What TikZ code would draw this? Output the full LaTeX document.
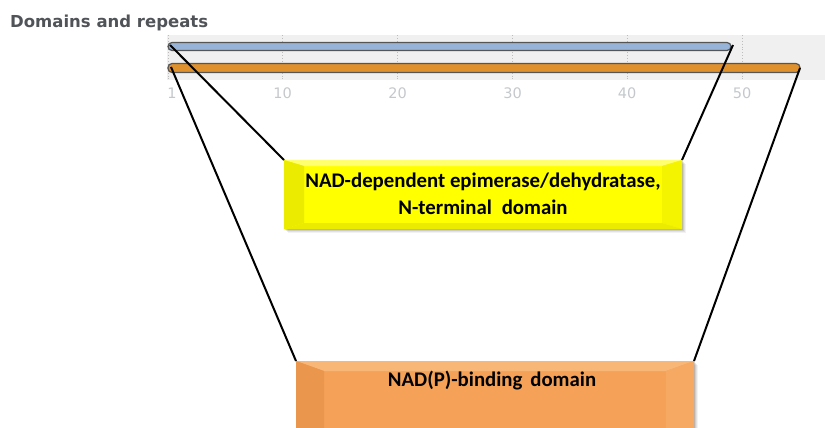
\documentclass[tikz,border=0pt]{standalone}
\usepackage{fontspec}
\setmainfont{Carlito}
\newfontfamily\verd{DejaVu Sans}
\usetikzlibrary{calc}
\definecolor{titlegray}{HTML}{505458}
\definecolor{bandgray}{HTML}{F0F0F0}
\definecolor{gridgray}{HTML}{BDBDBD}
\definecolor{ticklbl}{HTML}{C4C8CC}
\definecolor{barblue}{HTML}{98B3D8}
\definecolor{barorange}{HTML}{DF912E}
\definecolor{bardraw}{HTML}{555555}
\definecolor{ylw}{HTML}{FFFF00}
\definecolor{ylwlight}{HTML}{FFFF70}
\definecolor{ylwdark}{HTML}{EBEB00}
\definecolor{ylwside}{HTML}{F4F400}
\definecolor{org}{HTML}{F5A258}
\definecolor{orglight}{HTML}{F8B677}
\definecolor{orgdark}{HTML}{EA964D}
\definecolor{orgside}{HTML}{F6A963}
\tikzset{
  barstyle/.style={draw=bardraw, line width=1.2pt, rounded corners=4pt},
  gridline/.style={draw=gridgray, dotted, line width=0.9pt},
  ticklabel/.style={font=\verd\fontsize{14.5}{16}\selectfont, text=ticklbl, inner sep=0pt},
  boxbase/.style={rectangle, inner sep=0pt, outer sep=0pt},
  connector/.style={draw=black, line width=2pt},
  boxtext/.style={font=\bfseries\fontsize{20.8}{27}\selectfont, text=black, align=center, inner sep=0pt}
}
\begin{document}
\begin{tikzpicture}[x=1pt,y=-1pt]
\useasboundingbox (0,0) rectangle (825,428);
% title
\node[anchor=base west, inner sep=0pt, font=\verd\bfseries\fontsize{16.5}{18}\selectfont, text=titlegray] (title) at (10,28) {Domains and repeats};
% band
\fill[bandgray] (167,35) rectangle (825,80);
\foreach \x in {168,282.7,397.7,512.7,627,742} \draw[gridline] (\x,35) -- (\x,80);
% tick labels
\node[ticklabel] (t1) at (172,93) {1};
\node[ticklabel] (t10) at (282.7,93) {10};
\node[ticklabel] (t20) at (397.7,93) {20};
\node[ticklabel] (t30) at (512.7,93) {30};
\node[ticklabel] (t40) at (627,93) {40};
\node[ticklabel] (t50) at (742,93) {50};
% bars
\draw[barstyle, fill=barblue] (168,42.5) rectangle (731,50.5);
\draw[barstyle, fill=barorange] (168,63.5) rectangle (800,72.5);
\coordinate (bL) at (170,45);
\coordinate (bR) at (733,45);
\coordinate (oL) at (171,67);
\coordinate (oR) at (800,68);
% yellow box shadow
\foreach \i/\o in {4/10,3/14,2/18,1/24}
  \fill[black, opacity=0.\o*0.5] (284+\i,160+\i) rectangle (682+\i,229+\i);
\node[boxbase, fill=ylw, minimum width=398pt, minimum height=69pt] (nadA) at (483,194.5) {};
% bevels yellow
\fill[ylwlight] (nadA.north west) -- (nadA.north east) -- ($(nadA.north east)+(-20,6)$) -- ($(nadA.north west)+(20,6)$) -- cycle;
\fill[ylwdark] (nadA.north west) -- ($(nadA.north west)+(20,6)$) -- ($(nadA.south west)+(20,-6)$) -- (nadA.south west) -- cycle;
\fill[ylwside] (nadA.north east) -- ($(nadA.north east)+(-20,6)$) -- ($(nadA.south east)+(-20,-6)$) -- (nadA.south east) -- cycle;
\fill[ylwdark] (nadA.south west) -- ($(nadA.south west)+(20,-6)$) -- ($(nadA.south east)+(-20,-6)$) -- (nadA.south east) -- cycle;
\node[boxtext] (nadAtext) at (483,194) {NAD-dependent epimerase/dehydratase,\\N-terminal\hspace{0.25em} domain};
% orange box shadow
\foreach \i/\o in {4/10,3/14,2/18,1/24}
  \fill[black, opacity=0.\o*0.5] (296+\i,361+\i) rectangle (694+\i,440);
\node[boxbase, fill=org, minimum width=398pt, minimum height=80pt] (nadB) at (495,401) {};
\fill[orglight] (nadB.north west) -- (nadB.north east) -- ($(nadB.north east)+(-28,10)$) -- ($(nadB.north west)+(28,10)$) -- cycle;
\fill[orgdark] (nadB.north west) -- ($(nadB.north west)+(28,10)$) -- ($(nadB.south west)+(28,-10)$) -- (nadB.south west) -- cycle;
\fill[orgside] (nadB.north east) -- ($(nadB.north east)+(-28,10)$) -- ($(nadB.south east)+(-28,-10)$) -- (nadB.south east) -- cycle;
\node[boxtext, anchor=base] (nadBtext) at (492,386) {NAD(P)-binding\hspace{0.15em} domain};
% connectors
\draw[connector] (bL) -- (nadA.north west);
\draw[connector] (bR) -- (nadA.north east);
\draw[connector] (oL) -- (nadB.north west);
\draw[connector] (oR) -- (nadB.north east);
\end{tikzpicture}
\end{document}
